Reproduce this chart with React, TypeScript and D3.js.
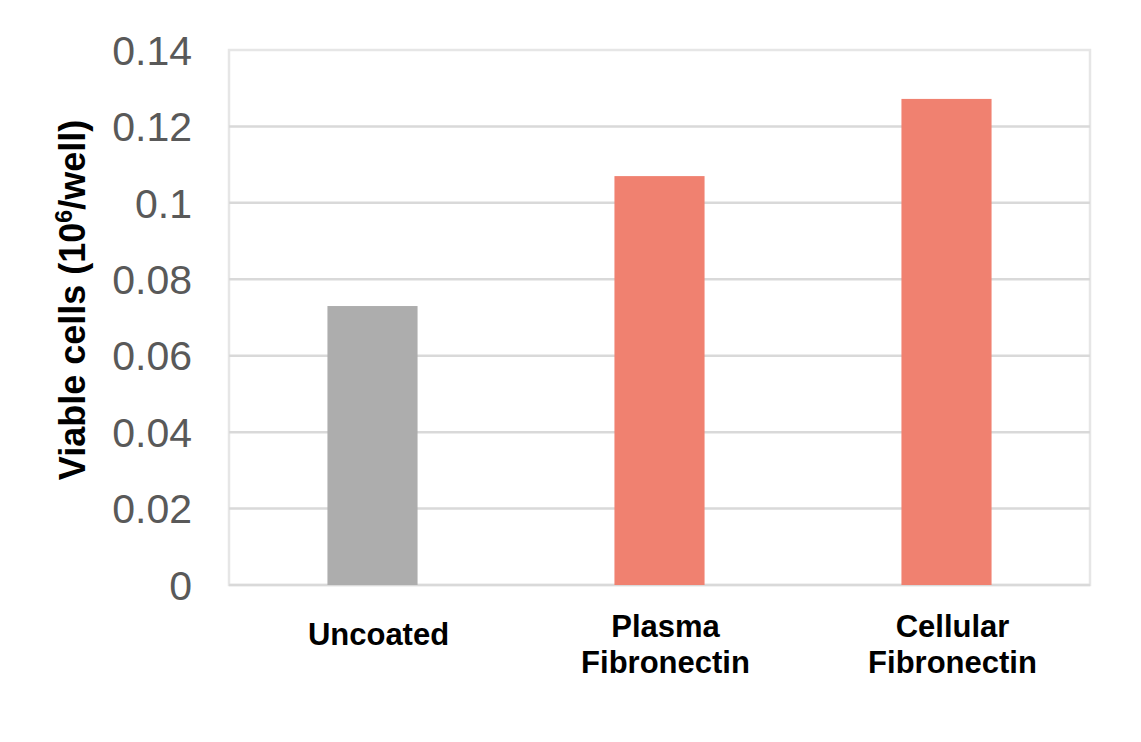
import React from 'react';
import * as d3 from 'd3';

const categories = ['Uncoated', 'Plasma\nFibronectin', 'Cellular\nFibronectin'];
const values = [0.073, 0.107, 0.1272];
const barColors = ['#adadad', '#f08170', '#f08170'];
const yTicks = [0, 0.02, 0.04, 0.06, 0.08, 0.1, 0.12, 0.14];

const App: React.FC = () => {
  const width = 1141;
  const height = 742;
  const margin = { top: 50, right: 51, bottom: 157, left: 229 };

  const x = d3.scaleBand<string>()
    .domain(categories)
    .range([margin.left, width - margin.right])
    .paddingInner(0.686)
    .paddingOuter(0.343);

  const y = d3.scaleLinear()
    .domain([0, 0.14])
    .range([height - margin.bottom, margin.top]);

  const font = '"Liberation Sans", Arial, sans-serif';

  return (
    <div style={{ position: 'absolute', left: 0, top: 0 }}>
      <svg width={width} height={height} style={{ display: 'block', background: '#fff' }}>
        {/* plot border */}
        <rect
          x={margin.left}
          y={margin.top}
          width={width - margin.left - margin.right}
          height={height - margin.top - margin.bottom}
          fill="none"
          stroke="#e6e6e6"
          strokeWidth={2.5}
        />

        {/* gridlines */}
        {yTicks.filter((t) => t < 0.14).map((t) => (
          <line
            key={t}
            x1={margin.left}
            x2={width - margin.right}
            y1={y(t)}
            y2={y(t)}
            stroke="#d9d9d9"
            strokeWidth={2.5}
          />
        ))}

        {/* bars */}
        {categories.map((c, i) => (
          <rect
            key={c}
            x={x(c)}
            y={y(values[i])}
            width={x.bandwidth()}
            height={y(0) - y(values[i])}
            fill={barColors[i]}
          />
        ))}

        {/* y tick labels */}
        {yTicks.map((t) => (
          <text
            key={'l' + t}
            x={192}
            y={y(t)}
            dy="0.36em"
            textAnchor="end"
            fontFamily={font}
            fontSize={41}
            fill="#595959"
          >
            {String(t)}
          </text>
        ))}

        {/* category labels */}
        {categories.map((c) => {
          const lines = c.split('\n');
          const cx = (x(c) ?? 0) + x.bandwidth() / 2 + 6;
          const baseY = lines.length === 1 ? 645 : 637;
          return (
            <text
              key={'c' + c}
              textAnchor="middle"
              fontFamily={font}
              fontSize={31}
              fontWeight="bold"
              fill="#000"
            >
              {lines.map((ln, j) => (
                <tspan key={j} x={cx} y={baseY + j * 36}>{ln}</tspan>
              ))}
            </text>
          );
        })}

        {/* y axis title */}
        <text
          transform="translate(85,300) rotate(-90)"
          textAnchor="middle"
          fontFamily={font}
          fontSize={36}
          fontWeight="bold"
          fill="#000"
        >
          Viable cells (10
          <tspan fontSize={23} dy={-13}>6</tspan>
          <tspan dy={13}>/well)</tspan>
        </text>
      </svg>
    </div>
  );
};

export default App;
